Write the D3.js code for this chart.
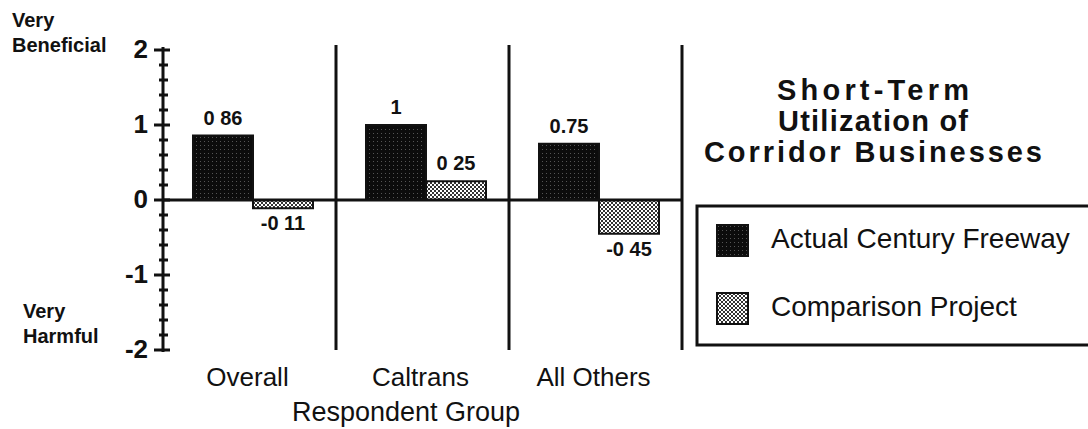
<!DOCTYPE html>
<html>
<head>
<meta charset="utf-8">
<script src="https://cdn.jsdelivr.net/npm/d3@7"></script>
<style>
  html, body { margin: 0; padding: 0; background: #fff; }
  svg { display: block; font-family: "Liberation Sans", Arial, Helvetica, sans-serif; }
</style>
</head>
<body>
<svg id="chart" width="1088" height="429"></svg>
<script>
// ---- data ----
const categories = ["Overall", "Caltrans", "All Others"];
const seriesNames = ["Actual Century Freeway", "Comparison Project"];
const actualValues = [0.86, 1.0, 0.75];
const comparisonValues = [-0.11, 0.25, -0.45];
const actualLabels = ["0 86", "1", "0.75"];
const comparisonLabels = ["-0 11", "0 25", "-0 45"];
const yTickValues = [-2, -1, 0, 1, 2];
const yTickLabels = ["-2", "-1", "0", "1", "2"];
const titleLines = ["Short-Term", "Utilization of", "Corridor  Businesses"];
const xAxisTitle = "Respondent Group";
const topLabel = ["Very", "Beneficial"];
const bottomLabel = ["Very", "Harmful"];

const svg = d3.select("#chart");
const ink = "#111";

// patterns
const defs = svg.append("defs");
const pA = defs.append("pattern").attr("id", "patA").attr("width", 4).attr("height", 4)
  .attr("patternUnits", "userSpaceOnUse");
pA.append("rect").attr("width", 4).attr("height", 4).attr("fill", "#0c0c0c");
pA.append("rect").attr("x", 1).attr("y", 1).attr("width", 1).attr("height", 1).attr("fill", "#555");
const pB = defs.append("pattern").attr("id", "patB").attr("width", 4).attr("height", 4)
  .attr("patternUnits", "userSpaceOnUse");
pB.append("rect").attr("width", 4).attr("height", 4).attr("fill", "#fff");
pB.append("rect").attr("x", 0).attr("y", 0).attr("width", 2).attr("height", 2).attr("fill", "#333");
pB.append("rect").attr("x", 2).attr("y", 2).attr("width", 2).attr("height", 2).attr("fill", "#333");

// scales
const x = d3.scaleBand().domain(categories).range([163, 682]).padding(0);
const x1 = d3.scaleBand().domain(seriesNames).range([30, 150]).padding(0);
const y = d3.scaleLinear().domain([-2, 2]).range([350, 50]);

const rows = categories.map((c, i) => ({
  cat: c,
  vals: [
    { s: seriesNames[0], v: actualValues[i], lab: actualLabels[i] },
    { s: seriesNames[1], v: comparisonValues[i], lab: comparisonLabels[i] }
  ]
}));

const fills = { [seriesNames[0]]: "url(#patA)", [seriesNames[1]]: "url(#patB)" };

// bars
const g = svg.append("g");
const grp = g.selectAll("g.grp").data(rows).join("g")
  .attr("transform", d => `translate(${x(d.cat)},0)`);
grp.selectAll("rect").data(d => d.vals).join("rect")
  .attr("x", d => x1(d.s))
  .attr("width", x1.bandwidth())
  .attr("y", d => y(Math.max(0, d.v)))
  .attr("height", d => Math.abs(y(d.v) - y(0)))
  .attr("fill", d => fills[d.s])
  .attr("stroke", ink)
  .attr("stroke-width", 2);

// value labels
grp.selectAll("text.val").data(d => d.vals).join("text")
  .attr("class", "val")
  .attr("x", d => x1(d.s) + x1.bandwidth() / 2)
  .attr("y", d => d.v >= 0 ? y(d.v) - 11 : y(d.v) + 22)
  .attr("text-anchor", "middle")
  .attr("font-size", 20)
  .attr("font-weight", "bold")
  .attr("fill", ink)
  .text(d => d.lab);

// zero line
svg.append("line")
  .attr("x1", x.range()[0]).attr("x2", x.range()[1])
  .attr("y1", y(0)).attr("y2", y(0))
  .attr("stroke", ink).attr("stroke-width", 3);

// separators
svg.selectAll("line.sep").data(categories).join("line")
  .attr("class", "sep")
  .attr("x1", d => x(d) + x.bandwidth()).attr("x2", d => x(d) + x.bandwidth())
  .attr("y1", y(2) - 5).attr("y2", y(-2))
  .attr("stroke", ink).attr("stroke-width", 3);

// y axis
const yAxis = d3.axisLeft(y).tickValues(yTickValues).tickSize(0)
  .tickFormat((d, i) => yTickLabels[i]);
const ax = svg.append("g").attr("transform", `translate(${x.range()[0]},0)`).call(yAxis);
ax.select(".domain").attr("stroke", ink).attr("stroke-width", 3)
  .attr("d", `M0,${y(2) - 3}V${y(-2) + 2}`);
ax.selectAll(".tick text")
  .attr("x", -15).attr("dy", "0.3em")
  .attr("font-size", 26).attr("font-weight", "bold")
  .attr("font-family", "Liberation Sans, Arial, sans-serif")
  .attr("fill", ink);
// minor + major ticks
const minor = d3.range(-2, 2.0001, 0.2).map(v => +v.toFixed(1));
ax.selectAll("line.mt").data(minor).join("line")
  .attr("class", "mt")
  .attr("x1", d => Number.isInteger(d) ? -9 : -4)
  .attr("x2", d => Number.isInteger(d) ? 7 : 5)
  .attr("y1", d => y(d)).attr("y2", d => y(d))
  .attr("stroke", ink).attr("stroke-width", 3);

// y-end labels
const tl = svg.append("text").attr("font-size", 20).attr("font-weight", "bold").attr("fill", ink);
tl.selectAll("tspan").data(topLabel).join("tspan")
  .attr("x", 12).attr("y", (d, i) => 27 + i * 25).text(d => d);
const bl = svg.append("text").attr("font-size", 20).attr("font-weight", "bold").attr("fill", ink);
bl.selectAll("tspan").data(bottomLabel).join("tspan")
  .attr("x", 23).attr("y", (d, i) => 318 + i * 25).text(d => d);

// category labels
svg.selectAll("text.cat").data(categories).join("text")
  .attr("class", "cat")
  .attr("x", d => x(d) + x.bandwidth() / 2 - 2)
  .attr("y", 386)
  .attr("text-anchor", "middle")
  .attr("font-size", 26)
  .attr("fill", ink)
  .text(d => d);

svg.append("text")
  .attr("x", 406).attr("y", 421)
  .attr("text-anchor", "middle")
  .attr("font-size", 27)
  .attr("fill", ink)
  .text(xAxisTitle);

// title
const titleWidths = [192, 190, 338];
svg.selectAll("text.title").data(titleLines).join("text")
  .attr("class", "title")
  .attr("x", 873)
  .attr("y", (d, i) => 100 + i * 31)
  .attr("text-anchor", "middle")
  .attr("font-size", 29)
  .attr("font-weight", "bold")
  .attr("fill", ink)
  .attr("textLength", (d, i) => titleWidths[i])
  .attr("lengthAdjust", "spacing")
  .text(d => d);

// legend
svg.append("rect")
  .attr("x", 697).attr("y", 206).attr("width", 420).attr("height", 139)
  .attr("fill", "none").attr("stroke", ink).attr("stroke-width", 3);
const lg = svg.selectAll("g.leg").data(seriesNames).join("g")
  .attr("class", "leg")
  .attr("transform", (d, i) => `translate(717,${225 + i * 68})`);
lg.append("rect").attr("width", 31).attr("height", 31)
  .attr("fill", d => fills[d]).attr("stroke", ink).attr("stroke-width", 2);
lg.append("text").attr("x", 54).attr("y", 23)
  .attr("font-size", 28).attr("fill", ink)
  .text(d => d);
</script>
</body>
</html>
